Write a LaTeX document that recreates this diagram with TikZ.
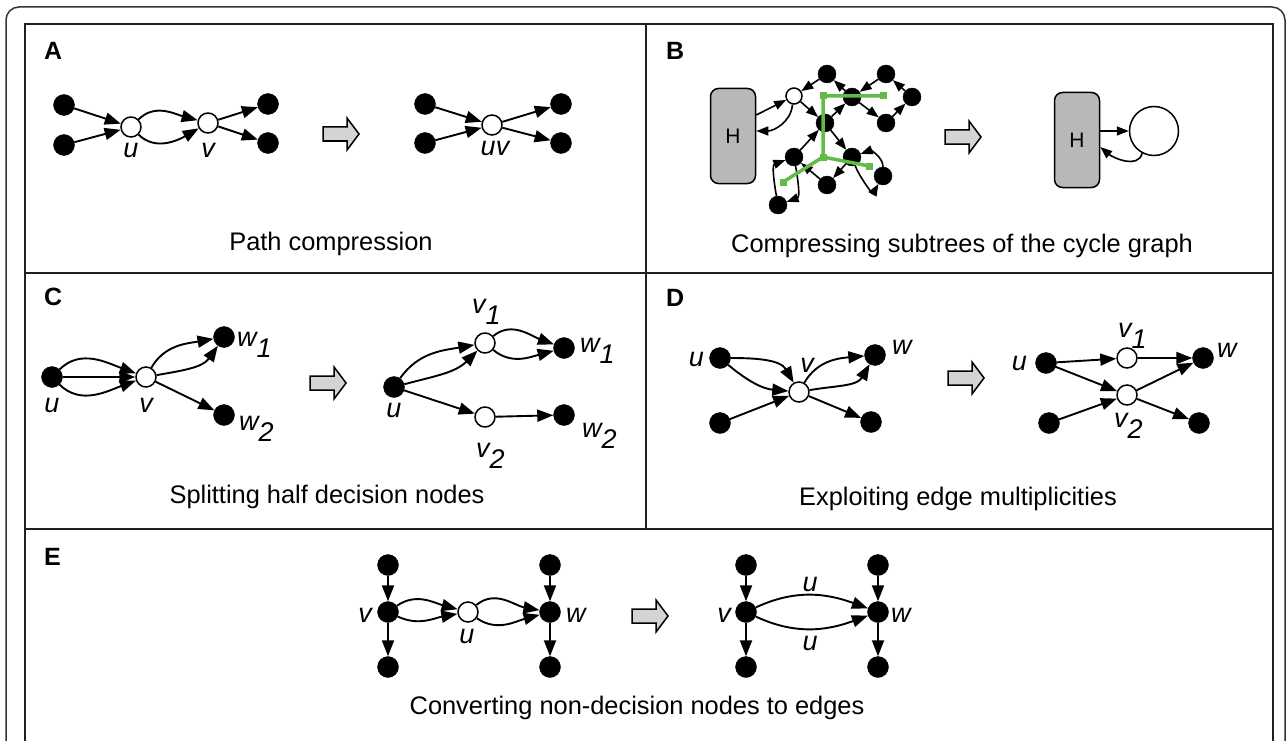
\documentclass[tikz,border=0pt]{standalone}
\usepackage{fontspec}
\setmainfont{Liberation Sans}
\usetikzlibrary{arrows.meta,positioning}

\definecolor{shaftgray}{gray}{0.83}
\definecolor{hgray}{gray}{0.72}
\definecolor{treegreen}{RGB}{98,186,72}

\newcommand\capfont{\fontsize{25.4}{30}\selectfont}
\newcommand\labfont{\fontsize{27}{30}\selectfont\itshape}
\newcommand\tagfont{\fontsize{25}{30}\selectfont\bfseries}
\newcommand\labsub[2]{#1\raisebox{-.42em}{#2}}

\begin{document}
\begin{tikzpicture}[x=1pt, y=1pt,
		dot/.style={circle, draw, fill=black, inner sep=0pt, minimum size=21pt},
		hole/.style={circle, draw, fill=white, line width=1.5pt, inner sep=0pt, minimum size=20pt},
		sdot/.style={dot, minimum size=18pt},
		shole/.style={hole, minimum size=16pt},
		link/.style={-{Triangle[length=16pt, width=12pt]}, line width=1.9pt},
		slink/.style={-{Triangle[length=12pt, width=9pt]}, line width=1.6pt},
		hbox/.style={draw, fill=hgray, line width=1.5pt, rounded corners=8pt,
			minimum width=45pt, minimum height=95pt, font=\fontsize{21}{24}\selectfont},
		gsq/.style={fill=treegreen, inner sep=0pt, minimum size=7pt},
		tree/.style={draw=treegreen, line width=3.5pt},
		lbl/.style={font=\labfont, inner sep=0pt},
		caption/.style={font=\capfont, anchor=base},
		tag/.style={font=\tagfont, anchor=base west, inner sep=0pt},
		blockarrow/.pic={\draw[fill=shaftgray, line width=1.5pt, line join=miter]
			(-18,-7) -- (6,-7) -- (6,-16) -- (18,0) -- (6,16) -- (6,7) -- (-18,7) -- cycle;}
	]
	\useasboundingbox (0,0) rectangle (1287,-741);

	% frames
	\draw[line width=1.5pt, draw=black!80, rounded corners=13pt] (6,-760) -- (6,-7) -- (1285,-7) -- (1285,-760);
	\draw[line width=2pt, draw=black!88] (25,-760) -- (25,-24) -- (1273,-24) -- (1273,-760);
	\draw[line width=2pt, draw=black!88] (25,-273) -- (1273,-273);
	\draw[line width=2pt, draw=black!88] (25,-529) -- (1273,-529);
	\draw[line width=2pt, draw=black!88] (646,-24) -- (646,-529);

	\node[tag] (tag A) at (44,-60) {A};
	\node[tag] (tag B) at (666,-60) {B};
	\node[tag] (tag C) at (44,-305) {C};
	\node[tag] (tag D) at (666,-306) {D};
	\node[tag] (tag E) at (44,-565) {E};

	% A: path compression
	\node[dot] (a1) at (64,-105) {};
	\node[dot] (a2) at (64,-145) {};
	\node[hole] (a u) at (131,-127) {};
	\node[hole] (a v) at (208,-123) {};
	\node[dot] (a3) at (268,-104) {};
	\node[dot] (a4) at (268,-143) {};
	\node[lbl] (a u lbl) at (131,-150) {u};
	\node[lbl] (a v lbl) at (208,-150) {v};

	\draw[link] (a1) -- (a u);
	\draw[link] (a2) -- (a u);
	\draw[link] (a u) to[out=45, in=165] (a v);
	\draw[link] (a u) to[out=-45, in=210] (a v);
	\draw[link] (a v) -- (a3);
	\draw[link] (a v) -- (a4);

	\pic at (341,-134) {blockarrow};

	\node[dot] (a5) at (425,-104) {};
	\node[dot] (a6) at (425,-143) {};
	\node[hole] (a uv) at (492,-125) {};
	\node[dot] (a7) at (561,-104) {};
	\node[dot] (a8) at (561,-143) {};
	\node[lbl] (a uv lbl) at (495,-148) {uv};

	\draw[link] (a5) -- (a uv);
	\draw[link] (a6) -- (a uv);
	\draw[link] (a uv) -- (a7);
	\draw[link] (a uv) -- (a8);

	\node[caption] (cap A) at (331,-250) {Path compression};

	% B: subtrees of the cycle graph
	\node[hbox] (h1) at (733,-136) {H};
	\node[shole] (b o) at (794,-96) {};
	\node[sdot] (b1) at (827,-74) {};
	\node[sdot] (b2) at (886,-74) {};
	\node[sdot] (b3) at (852,-97) {};
	\node[sdot] (b4) at (912,-97) {};
	\node[sdot] (b5) at (886,-123) {};
	\node[sdot] (b6) at (825,-123) {};
	\node[sdot] (b7) at (794,-157) {};
	\node[sdot] (b8) at (852,-157) {};
	\node[sdot] (b9) at (883,-176) {};
	\node[sdot] (b10) at (827,-185) {};
	\node[sdot] (b11) at (778,-205) {};

	\draw[slink] ([yshift=21pt]h1.east) -- (b o);
	\draw[slink] (b o.-100) to[out=-95, in=0] ([yshift=5pt]h1.east);
	\draw[slink] (b1) -- (b o);
	\draw[slink] (b o) -- (b6);
	\draw[slink] (b3) -- (b1);
	\draw[slink] (b2) -- (b3);
	\draw[slink] (b4) -- (b2);
	\draw[slink] (b5) -- (b4);
	\draw[slink] (b3) -- (b5);
	\draw[slink] (b6) -- (b3);
	\draw[slink] (b6) -- (b8);
	\draw[slink] (b7) -- (b6);
	\draw[slink] (b10) -- (b7);
	\draw[slink] (b8) -- (b10);
	\draw[slink] (b9) to[out=90, in=20] (b8);
	\draw[slink] (b8) to[out=-70, in=-120] (b9);
	\draw[slink] (b11) to[out=100, in=200] (b7);
	\draw[slink] (b7) to[out=-80, in=20] (b11);

	% spanning tree
	\node[gsq] (g1) at (823,-96) {};
	\node[gsq] (g2) at (883,-96) {};
	\node[gsq] (g3) at (823,-157) {};
	\node[gsq] (g4) at (783,-182) {};
	\node[gsq] (g5) at (869,-166) {};
	\draw[tree] (g2.center) -- (g1.center) -- (g3.center) -- (g4.center);
	\draw[tree] (g3.center) -- (g5.center);

	\pic at (963,-137) {blockarrow};

	\node[hbox] (h2) at (1077,-140) {H};
	\node[circle, draw, line width=1.5pt, inner sep=0pt, minimum size=49pt] (cyc) at (1154,-131) {};
	\draw[slink] (h2.east |- cyc) -- (cyc.west);
	\draw[slink] (cyc.-118) to[out=-105, in=-40] ([yshift=-7pt]h2.east);

	\node[caption] (cap B) at (962,-252) {Compressing subtrees of the cycle graph};

	% C: splitting half decision nodes
	\node[dot] (c u) at (52,-377) {};
	\node[hole] (c v) at (146,-377) {};
	\node[dot] (c w1) at (224,-337) {};
	\node[dot] (c w2) at (224,-415) {};
	\node[lbl] (c u lbl) at (52,-405) {u};
	\node[lbl] (c v lbl) at (146,-405) {v};
	\node[lbl, anchor=base west] (c w1 lbl) at (237,-346) {\labsub{w}{1}};
	\node[lbl, anchor=base west] (c w2 lbl) at (239,-430) {\labsub{w}{2}};

	\draw[link] (c u) to[out=45, in=160] (c v);
	\draw[link] (c u) -- (c v);
	\draw[link] (c u) to[out=-45, in=200] (c v);
	\draw[link] (c v) to[out=60, in=190] (c w1);
	\draw[link] (c v) to[out=10, in=235] (c w1);
	\draw[link] (c v) -- (c w2);

	\pic at (328,-383) {blockarrow};

	\node[dot] (c u') at (394,-387) {};
	\node[hole] (c v1) at (485,-343) {};
	\node[hole] (c v2) at (485,-417) {};
	\node[dot] (c w1') at (564,-348) {};
	\node[dot] (c w2') at (564,-415) {};
	\node[lbl] (c u' lbl) at (394,-410) {u};
	\node[lbl, anchor=base west] (c v1 lbl) at (472,-313) {\labsub{v}{1}};
	\node[lbl, anchor=base west] (c v2 lbl) at (476,-457) {\labsub{v}{2}};
	\node[lbl, anchor=base west] (c w1' lbl) at (580,-352) {\labsub{w}{1}};
	\node[lbl, anchor=base west] (c w2' lbl) at (582,-437) {\labsub{w}{2}};

	\draw[link] (c u') to[out=55, in=190] (c v1);
	\draw[link] (c u') to[out=15, in=225] (c v1);
	\draw[link] (c v1) to[out=40, in=160] (c w1');
	\draw[link] (c v1) to[out=-40, in=195] (c w1');
	\draw[link] (c u') -- (c v2);
	\draw[link] (c v2) -- (c w2');

	\node[caption] (cap C) at (327,-503) {Splitting half decision nodes};

	% D: edge multiplicities
	\node[dot] (d u) at (720,-358) {};
	\node[dot] (d1) at (720,-423) {};
	\node[hole] (d v) at (799,-392) {};
	\node[dot] (d w) at (875,-355) {};
	\node[dot] (d2) at (871,-422) {};
	\node[lbl, anchor=base east] (d u lbl) at (704,-366) {u};
	\node[lbl, anchor=base] (d v lbl) at (807,-372) {v};
	\node[lbl, anchor=base west] (d w lbl) at (892,-354) {w};

	\draw[link] (d u) to[out=0, in=120] (d v);
	\draw[link] (d u) to[out=-40, in=175] (d v);
	\draw[link] (d1) -- (d v);
	\draw[link] (d v) to[out=60, in=185] (d w);
	\draw[link] (d v) to[out=10, in=240] (d w);
	\draw[link] (d v) -- (d2);

	\pic at (966,-378) {blockarrow};

	\node[dot] (d u') at (1046,-363) {};
	\node[dot] (d3) at (1049,-423) {};
	\node[hole] (d v1) at (1127,-358) {};
	\node[hole] (d v2) at (1127,-395) {};
	\node[dot] (d w') at (1203,-358) {};
	\node[dot] (d4) at (1199,-423) {};
	\node[lbl, anchor=base east] (d u' lbl) at (1027,-370) {u};
	\node[lbl, anchor=base west] (d v1 lbl) at (1118,-337) {\labsub{v}{1}};
	\node[lbl, anchor=base west] (d v2 lbl) at (1114,-427) {\labsub{v}{2}};
	\node[lbl, anchor=base west] (d w' lbl) at (1217,-357) {w};

	\draw[link] (d u') -- (d v1);
	\draw[link] (d v1) -- (d w');
	\draw[link] (d u') -- (d v2);
	\draw[link] (d3) -- (d v2);
	\draw[link] (d v2) -- (d w');
	\draw[link] (d v2) -- (d4);

	\node[caption] (cap D) at (958,-505) {Exploiting edge multiplicities};

	% E: non-decision nodes to edges
	\node[dot] (e1) at (388,-565) {};
	\node[dot] (e v) at (388,-612) {};
	\node[dot] (e2) at (388,-667) {};
	\node[hole] (e u) at (468,-612) {};
	\node[dot] (e3) at (550,-565) {};
	\node[dot] (e w) at (550,-612) {};
	\node[dot] (e4) at (550,-667) {};
	\node[lbl, anchor=base east] (e v lbl) at (372,-622) {v};
	\node[lbl, anchor=base west] (e w lbl) at (566,-622) {w};
	\node[lbl] (e u lbl) at (467,-636) {u};

	\draw[link] (e1) -- (e v);
	\draw[link] (e v) -- (e2);
	\draw[link] (e v) to[out=35, in=165] (e u);
	\draw[link] (e v) to[out=-25, in=190] (e u);
	\draw[link] (e u) to[out=40, in=170] (e w);
	\draw[link] (e u) to[out=-35, in=195] (e w);
	\draw[link] (e3) -- (e w);
	\draw[link] (e w) -- (e4);

	\pic at (650,-616) {blockarrow};

	\node[dot] (e5) at (746,-565) {};
	\node[dot] (e v') at (746,-612) {};
	\node[dot] (e6) at (746,-667) {};
	\node[dot] (e7) at (878,-565) {};
	\node[dot] (e w') at (878,-612) {};
	\node[dot] (e8) at (878,-667) {};
	\node[lbl, anchor=base east] (e v' lbl) at (731,-622) {v};
	\node[lbl, anchor=base west] (e w' lbl) at (891,-622) {w};
	\node[lbl] (e u1 lbl) at (810,-584) {u};
	\node[lbl] (e u2 lbl) at (810,-643) {u};

	\draw[link] (e5) -- (e v');
	\draw[link] (e v') -- (e6);
	\draw[link] (e v') to[out=25, in=160] (e w');
	\draw[link] (e v') to[out=-25, in=200] (e w');
	\draw[link] (e7) -- (e w');
	\draw[link] (e w') -- (e8);

	\node[caption] (cap E) at (637,-714) {Converting non-decision nodes to edges};
\end{tikzpicture}
\end{document}
